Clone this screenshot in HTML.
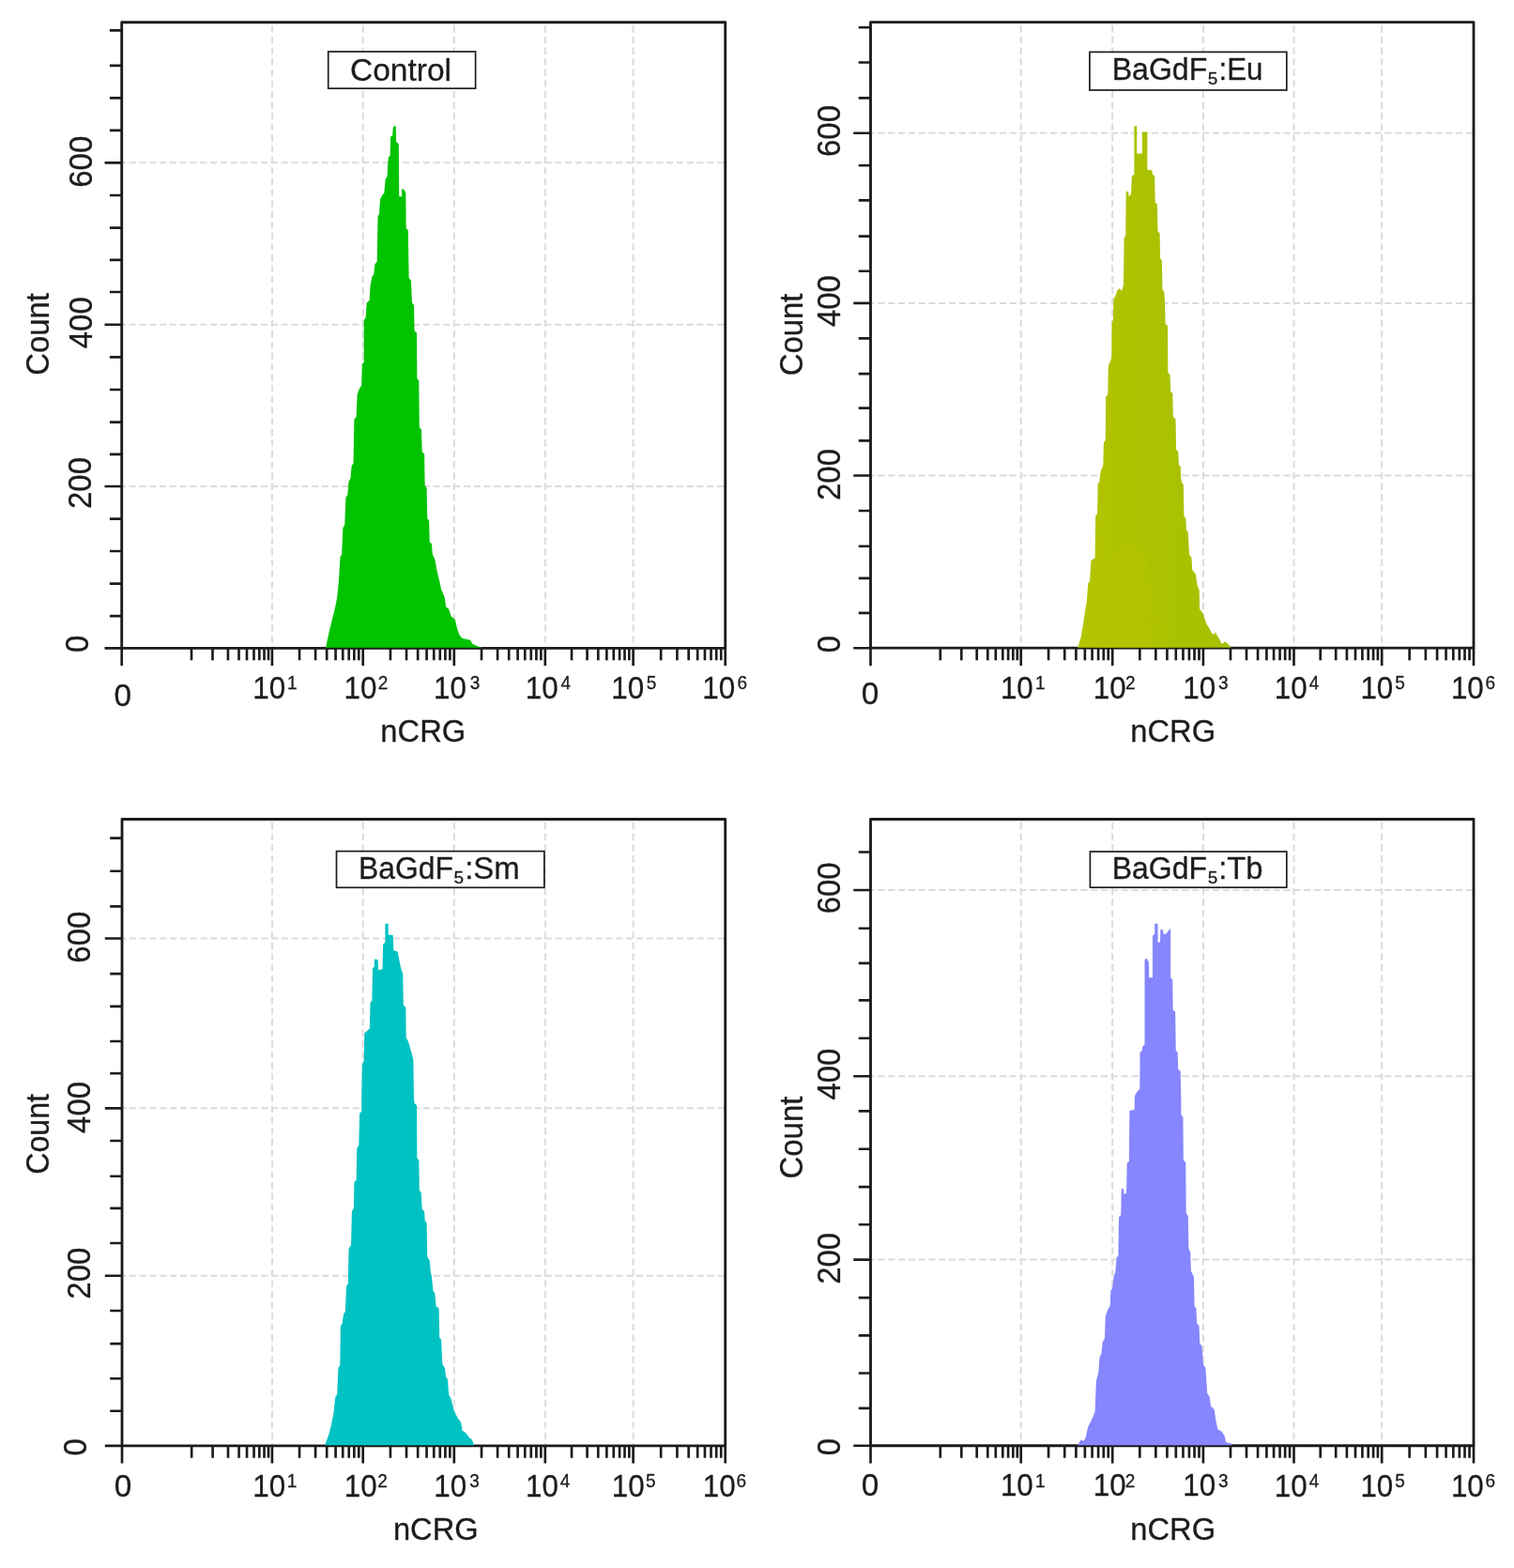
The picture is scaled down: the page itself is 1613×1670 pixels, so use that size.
<!DOCTYPE html>
<html lang="en">
<head>
<meta charset="utf-8">
<title>Flow cytometry histograms</title>
<style>
html,body{margin:0;padding:0;background:#fff;}
body{width:1613px;height:1670px;overflow:hidden;}
svg{display:block;}
svg text{font-family:"Liberation Sans",Arial,Helvetica,sans-serif;fill:#1c1c1c;stroke:#1c1c1c;stroke-width:0.3px;stroke-linejoin:round;}
</style>
</head>
<body>
<svg width="1613" height="1670" viewBox="0 0 1613 1670">
<rect width="1613" height="1670" fill="#fff"/>
<g id="panel1">
<path d="M129.7 173.3H772.7M129.7 345.7H772.7M129.7 518H772.7" fill="none" stroke="#dbdbdb" stroke-width="2" stroke-dasharray="7.3 3.5" stroke-dashoffset="3"/>
<path d="M289.9 23.7V690.3M386.7 23.7V690.3M483.8 23.7V690.3M580.8 23.7V690.3M674.6 23.7V690.3" fill="none" stroke="#dbdbdb" stroke-width="2" stroke-dasharray="7.5 4.1" stroke-dashoffset="8"/>
<rect x="129.7" y="23.7" width="643" height="666.6" fill="none" stroke="#1c1c1c" stroke-width="2.85" stroke-linejoin="round"/>
<path d="M346.86 689.8L347.36 688.47L350.46 673.59L353.56 661.19L356.66 648.79L359.14 636.39L361 617.79L362.49 592.99L364.1 590.51L365.34 562L367.2 559.52L368.44 529.76L370.3 527.28L371.54 512.4L373.4 509.92L373.4 510L374.64 495.99L376.5 493.51L377.37 446.39L379.6 443.91L380.59 420.35L382.7 414.15L385.18 410.43L385.8 388.12L387.66 385.64L387.66 341L389.52 338.52L390.76 322.4L393.24 319.92L393.61 320L394.48 304.75L396.34 294.83L398.2 292.35L399.44 281.19L401.67 278.71L402.54 230.35L404.02 227.87L405.02 212.37L407.5 207.41L409.36 205.55L410.6 190.68L412.46 188.2L413.69 167.74L415.55 165.88L416.17 145.42L418.28 144.18L418.65 136.12L420.14 134.26L421.75 134.26L422 151L424.85 153.48L425.23 209.27L427.95 209.27L428.2 201.22L430.43 201.84L432.29 205.55L432.67 242.75L434.77 245.23L435.64 296.07L437.87 298.55L438.87 320L439.11 322.4L440.97 324.88L441.59 352.16L444.07 354.64L444.32 402.99L446.31 405.47L446.8 455.07L449.03 457.55L449.65 481.11L452.13 483.59L452.5 510L452.75 517.36L454.61 519.84L455.23 552.08L457.09 554.56L457.71 576.88L459.94 579.36L460.81 590.51L463.29 595.47L465.77 609.11L468.25 619.03L470.11 627.71L473.83 636.39L475.07 646.31L478.17 648.79L480.65 656.23L484.99 659.95L486.85 668.63L489.33 676.07L492.43 679.79L501.11 681.65L503.59 685.99L509.79 688.47L513.51 689.71L514.01 689.8Z" fill="#01c300"/>
<path d="M116.9 32.4H129.7M116.9 69.9H129.7M116.9 104.3H129.7M116.9 138.8H129.7M111.5 173.3H129.7M116.9 208H129.7M116.9 242.6H129.7M116.9 276.8H129.7M116.9 311H129.7M111.5 345.7H129.7M116.9 380.3H129.7M116.9 415H129.7M116.9 449.6H129.7M116.9 483.9H129.7M111.5 518H129.7M116.9 552.6H129.7M116.9 587H129.7M116.9 621.6H129.7M116.9 656.1H129.7M111.5 690.3H129.7M129.7 690.3V709.1M289.9 690.3V709.1M386.7 690.3V709.1M483.8 690.3V709.1M580.8 690.3V709.1M674.6 690.3V709.1M772.7 690.3V709.1M204 690.3V703.3M226.49 690.3V703.3M242.9 690.3V703.3M254.5 690.3V703.3M263 690.3V703.3M270.5 690.3V703.3M276.3 690.3V703.3M281.51 690.3V703.3M286.01 690.3V703.3M319.04 690.3V703.3M336.09 690.3V703.3M348.18 690.3V703.3M357.56 690.3V703.3M365.23 690.3V703.3M371.71 690.3V703.3M377.32 690.3V703.3M382.27 690.3V703.3M415.93 690.3V703.3M433.03 690.3V703.3M445.16 690.3V703.3M454.57 690.3V703.3M462.26 690.3V703.3M468.76 690.3V703.3M474.39 690.3V703.3M479.36 690.3V703.3M513 690.3V703.3M530.08 690.3V703.3M542.2 690.3V703.3M551.6 690.3V703.3M559.28 690.3V703.3M565.77 690.3V703.3M571.4 690.3V703.3M576.36 690.3V703.3M609.04 690.3V703.3M625.55 690.3V703.3M637.27 690.3V703.3M646.36 690.3V703.3M653.79 690.3V703.3M660.07 690.3V703.3M665.51 690.3V703.3M670.31 690.3V703.3M704.13 690.3V703.3M721.41 690.3V703.3M733.66 690.3V703.3M743.17 690.3V703.3M750.94 690.3V703.3M757.5 690.3V703.3M763.19 690.3V703.3M768.21 690.3V703.3" fill="none" stroke="#1c1c1c" stroke-width="2.65"/>
<rect x="349.7" y="55" width="156.9" height="39.2" fill="#fff" stroke="#1c1c1c" stroke-width="1.7"/>
<text transform="translate(373 85.5) scale(1.0035 1)" font-size="33.4">Control</text>
<text transform="translate(93.5 695.05) rotate(-90) scale(0.9249 1)" font-size="35.57">0</text>
<text transform="translate(96.9 541.93) rotate(-90) scale(0.9249 1)" font-size="35.57">200</text>
<text transform="translate(97.5 371.18) rotate(-90) scale(0.9249 1)" font-size="35.57">400</text>
<text transform="translate(97.5 199.69) rotate(-90) scale(0.9249 1)" font-size="35.57">600</text>
<text transform="translate(51.7 399.87) rotate(-90) scale(0.9251 1)" font-size="35.57">Count</text>
<text transform="translate(121.56 751.6)" font-size="33.4">0</text>
<g><text transform="translate(269.2 743.9) scale(0.9400 1)" font-size="33.4">10</text><text transform="translate(306.06 734.2) scale(0.9500 1)" font-size="20">1</text></g>
<g><text transform="translate(366.5 743.9) scale(0.9400 1)" font-size="33.4">10</text><text transform="translate(402.64 734.2) scale(0.9500 1)" font-size="20">2</text></g>
<g><text transform="translate(462.1 744) scale(0.9400 1)" font-size="33.4">10</text><text transform="translate(500.78 734.3) scale(0.9500 1)" font-size="20">3</text></g>
<g><text transform="translate(559.8 744) scale(0.9400 1)" font-size="33.4">10</text><text transform="translate(597.56 734.3) scale(0.9500 1)" font-size="20">4</text></g>
<g><text transform="translate(651.2 744) scale(0.9400 1)" font-size="33.4">10</text><text transform="translate(688.64 734.3) scale(0.9500 1)" font-size="20">5</text></g>
<g><text transform="translate(748.3 744) scale(0.9400 1)" font-size="33.4">10</text><text transform="translate(785.44 734.3) scale(0.9500 1)" font-size="20">6</text></g>
<text transform="translate(405.33 790.4) scale(0.9798 1)" font-size="33.4">nCRG</text>
</g>
<g id="panel2">
<path d="M927.5 141.7H1570M927.5 322.9H1570M927.5 506.5H1570" fill="none" stroke="#dbdbdb" stroke-width="2" stroke-dasharray="7.3 3.5" stroke-dashoffset="3"/>
<path d="M1087.7 23.6V690.2M1185.2 23.6V690.2M1281.9 23.6V690.2M1378.5 23.6V690.2M1472.2 23.6V690.2" fill="none" stroke="#dbdbdb" stroke-width="2" stroke-dasharray="7.5 4.1" stroke-dashoffset="8"/>
<rect x="927.5" y="23.6" width="642.5" height="666.6" fill="none" stroke="#1c1c1c" stroke-width="2.85" stroke-linejoin="round"/>
<defs><linearGradient id="g2" gradientUnits="userSpaceOnUse" x1="1150" y1="0" x2="1300" y2="0"><stop offset="0" stop-color="#b4c400"/><stop offset="0.45" stop-color="#abc200"/><stop offset="1" stop-color="#a7c100"/></linearGradient></defs>
<path d="M1148.1 689.7L1148.6 688.47L1151.7 678.55L1153.56 667.39L1155.42 654.99L1157.9 640.11L1159.14 621.51L1161 619.03L1162.49 596.71L1166.58 594.23L1167.2 549.6L1169.06 547.12L1169.68 514.88L1171.54 512.4L1171.54 510L1172.78 500.95L1175.26 495.99L1175.88 471.19L1177.74 468.71L1178.11 422.83L1180.22 420.35L1180.84 389.36L1182.08 386.88L1184.31 380.68L1184.56 343.48L1185.8 341L1186.42 317.44L1188.28 313.72L1186.42 320L1188.28 315.91L1190.14 309.71L1192.62 307.23L1195.1 309.71L1196.96 303.51L1197.58 253.29L1199.19 251.43L1199.68 205.55L1200.06 203.69L1202.29 204.31L1202.54 209.27L1205.02 206.79L1205.88 187.58L1208.36 185.72L1208.36 134.26L1211.22 134.26L1211.22 163.4L1216.79 163.4L1216.79 140.46L1222.37 140.46L1222.37 180.76L1227.33 181.38L1227.95 185.72L1230.19 187.58L1230.68 215.47L1232.91 217.33L1233.53 246.47L1235.64 248.33L1236.01 274.99L1237.87 277.47L1238.49 308.47L1240.35 310.95L1240.97 320L1241.59 344.72L1244.07 347.2L1244.32 396.79L1246.55 399.27L1247.17 416.63L1249.28 419.11L1249.9 443.91L1252.5 446.39L1253 478.63L1255.23 481.11L1255.85 494.75L1257.71 497.23L1258.33 510L1258.95 513.64L1260.81 516.12L1261.43 549.6L1263.29 552.08L1263.91 564.48L1265.77 566.96L1267.01 590.51L1269.49 594.23L1270.11 606.63L1273.83 611.59L1275.69 623.99L1277.55 627.71L1278.17 648.79L1281.89 653.75L1284.99 663.67L1288.71 669.87L1291.19 674.83L1294.29 675.45L1294.91 672.35L1296.15 676.07L1298.63 679.79L1301.73 685.99L1304.83 683.51L1307.31 684.75L1311.03 689.09L1311.53 689.7Z" fill="url(#g2)"/>
<path d="M1168 690L1176 640L1181 600L1185 592L1193 590L1200 566L1204 562L1208 580L1213 586L1218 582L1224 604L1230 640L1236 655L1246 690Z" fill="#bcc500" opacity="0.3"/>
<path d="M914.7 29.2H927.5M914.7 66.5H927.5M914.7 104.4H927.5M909.3 141.7H927.5M914.7 176.2H927.5M914.7 213.3H927.5M914.7 251.6H927.5M914.7 288.7H927.5M909.3 322.9H927.5M914.7 360.4H927.5M914.7 398.1H927.5M914.7 434.6H927.5M914.7 469.3H927.5M909.3 506.5H927.5M914.7 544H927.5M914.7 581.7H927.5M914.7 615.8H927.5M914.7 652.9H927.5M909.3 690.2H927.5M927.5 690.2V709M1087.7 690.2V709M1185.2 690.2V709M1281.9 690.2V709M1378.5 690.2V709M1472.2 690.2V709M1570 690.2V709M1001.8 690.2V703.2M1024.29 690.2V703.2M1040.7 690.2V703.2M1052.3 690.2V703.2M1060.8 690.2V703.2M1068.3 690.2V703.2M1074.1 690.2V703.2M1079.31 690.2V703.2M1083.81 690.2V703.2M1117.05 690.2V703.2M1134.22 690.2V703.2M1146.4 690.2V703.2M1155.85 690.2V703.2M1163.57 690.2V703.2M1170.1 690.2V703.2M1175.75 690.2V703.2M1180.74 690.2V703.2M1214.31 690.2V703.2M1231.34 690.2V703.2M1243.42 690.2V703.2M1252.79 690.2V703.2M1260.45 690.2V703.2M1266.92 690.2V703.2M1272.53 690.2V703.2M1277.48 690.2V703.2M1310.98 690.2V703.2M1327.99 690.2V703.2M1340.06 690.2V703.2M1349.42 690.2V703.2M1357.07 690.2V703.2M1363.54 690.2V703.2M1369.14 690.2V703.2M1374.08 690.2V703.2M1406.71 690.2V703.2M1423.21 690.2V703.2M1434.91 690.2V703.2M1443.99 690.2V703.2M1451.41 690.2V703.2M1457.69 690.2V703.2M1463.12 690.2V703.2M1467.91 690.2V703.2M1501.64 690.2V703.2M1518.86 690.2V703.2M1531.08 690.2V703.2M1540.56 690.2V703.2M1548.3 690.2V703.2M1554.85 690.2V703.2M1560.52 690.2V703.2M1565.52 690.2V703.2" fill="none" stroke="#1c1c1c" stroke-width="2.65"/>
<rect x="1160.9" y="55.4" width="209.9" height="40.6" fill="#fff" stroke="#1c1c1c" stroke-width="1.7"/>
<g><text transform="translate(1184.67 85.2) scale(0.9604 1)" font-size="33.4">BaGdF</text><text transform="translate(1286.74 90.3)" font-size="19">5</text><text transform="translate(1298.45 85.2) scale(0.9361 1)" font-size="33.4">:Eu</text></g>
<text transform="translate(894.5 695.35) rotate(-90) scale(0.9249 1)" font-size="35.57">0</text>
<text transform="translate(894.9 532.93) rotate(-90) scale(0.9249 1)" font-size="35.57">200</text>
<text transform="translate(894.5 347.98) rotate(-90) scale(0.9249 1)" font-size="35.57">400</text>
<text transform="translate(894.5 166.94) rotate(-90) scale(0.9249 1)" font-size="35.57">600</text>
<text transform="translate(855.2 400.37) rotate(-90) scale(0.9262 1)" font-size="35.57">Count</text>
<text transform="translate(917.76 749.6)" font-size="33.4">0</text>
<g><text transform="translate(1065.9 743.6) scale(0.9400 1)" font-size="33.4">10</text><text transform="translate(1102.96 733.9) scale(0.9500 1)" font-size="20">1</text></g>
<g><text transform="translate(1164.8 743.8) scale(0.9400 1)" font-size="33.4">10</text><text transform="translate(1198.94 734.1) scale(0.9500 1)" font-size="20">2</text></g>
<g><text transform="translate(1260.3 743.8) scale(0.9400 1)" font-size="33.4">10</text><text transform="translate(1297.98 734.1) scale(0.9500 1)" font-size="20">3</text></g>
<g><text transform="translate(1357.7 744.1) scale(0.9400 1)" font-size="33.4">10</text><text transform="translate(1394.86 734.4) scale(0.9500 1)" font-size="20">4</text></g>
<g><text transform="translate(1449.4 744.1) scale(0.9400 1)" font-size="33.4">10</text><text transform="translate(1486.24 734.4) scale(0.9500 1)" font-size="20">5</text></g>
<g><text transform="translate(1545.9 744.1) scale(0.9400 1)" font-size="33.4">10</text><text transform="translate(1582.54 734.4) scale(0.9500 1)" font-size="20">6</text></g>
<text transform="translate(1204.33 790.3) scale(0.9786 1)" font-size="33.4">nCRG</text>
</g>
<g id="panel3">
<path d="M130 999.5H772.7M130 1180.3H772.7M130 1358.7H772.7" fill="none" stroke="#dbdbdb" stroke-width="2" stroke-dasharray="7.3 3.5" stroke-dashoffset="3"/>
<path d="M289.9 872.5V1539.8M386.7 872.5V1539.8M483.8 872.5V1539.8M580.8 872.5V1539.8M674.6 872.5V1539.8" fill="none" stroke="#dbdbdb" stroke-width="2" stroke-dasharray="7.5 4.1" stroke-dashoffset="8"/>
<rect x="130" y="872.5" width="642.7" height="667.3" fill="none" stroke="#1c1c1c" stroke-width="2.85" stroke-linejoin="round"/>
<path d="M345.62 1539.3L346.12 1539.09L347.36 1535.99L350.46 1527.31L352.94 1517.39L355.42 1504.99L357.28 1487.63L359.14 1485.15L360.38 1456.63L362.24 1454.15L362.86 1412L364.72 1409.52L365.96 1399.6L367.82 1397.12L369.06 1369.84L370.92 1367.36L370.92 1360L371.54 1329.87L374.02 1326.15L374.89 1290.19L376.87 1286.47L377.37 1259.19L379.6 1256.71L380.22 1223.24L382.32 1219.52L383.07 1186.04L385.18 1183.56L385.18 1170L385.8 1133.67L387.66 1129.95L388.28 1100.19L391.38 1097.71L393.86 1095.23L394.48 1067.95L396.34 1065.47L396.96 1031.38L398.82 1029.52L398.82 1021.46L402.54 1022.08L403.16 1033.24L407.5 1032L408.12 1005.96L410.35 1003.48L410.35 983.64L413.69 983.64L413.69 995.42L418.65 996.04L419.27 1012.16L423.61 1013.4L425.47 1023.32L427.33 1032L429.19 1036.96L429.81 1070.43L432.29 1072.91L432.67 1105.15L434.77 1108.87L436.63 1115.07L438.49 1121.27L440.35 1128.71L440.97 1170L441.59 1174.88L444.07 1177.36L444.32 1233.16L446.31 1235.64L446.8 1267.87L448.78 1270.35L449.65 1287.71L452.13 1290.19L452.75 1300.11L454.61 1302.59L455.23 1338.55L457.71 1342.27L458.95 1355.91L460.19 1360L460.19 1362.4L461.43 1374.8L463.29 1377.28L464.53 1390.92L467.63 1393.4L468.25 1424.4L470.11 1426.88L471.35 1452.91L473.83 1456.63L475.07 1466.55L476.93 1469.03L478.17 1485.15L480.65 1490.11L483.75 1502.51L487.47 1509.95L491.19 1514.91L492.43 1523.59L496.15 1526.07L499.87 1531.03L502.97 1533.51L504.83 1539.09L505.33 1539.3Z" fill="#01c2c2"/>
<path d="M117.2 892.6H130M117.2 927.7H130M117.2 965.4H130M111.8 999.5H130M117.2 1037.1H130M117.2 1071.9H130M117.2 1109H130M117.2 1143.2H130M111.8 1180.3H130M117.2 1215H130M117.2 1252.7H130M117.2 1286.8H130M117.2 1324H130M111.8 1358.7H130M117.2 1396H130M117.2 1431.1H130M117.2 1468.2H130M117.2 1502.7H130M111.8 1539.8H130M130 1539.8V1558.6M289.9 1539.8V1558.6M386.7 1539.8V1558.6M483.8 1539.8V1558.6M580.8 1539.8V1558.6M674.6 1539.8V1558.6M772.7 1539.8V1558.6M204.16 1539.8V1552.8M226.61 1539.8V1552.8M242.99 1539.8V1552.8M254.56 1539.8V1552.8M263.05 1539.8V1552.8M270.54 1539.8V1552.8M276.32 1539.8V1552.8M281.52 1539.8V1552.8M286.01 1539.8V1552.8M319.04 1539.8V1552.8M336.09 1539.8V1552.8M348.18 1539.8V1552.8M357.56 1539.8V1552.8M365.23 1539.8V1552.8M371.71 1539.8V1552.8M377.32 1539.8V1552.8M382.27 1539.8V1552.8M415.93 1539.8V1552.8M433.03 1539.8V1552.8M445.16 1539.8V1552.8M454.57 1539.8V1552.8M462.26 1539.8V1552.8M468.76 1539.8V1552.8M474.39 1539.8V1552.8M479.36 1539.8V1552.8M513 1539.8V1552.8M530.08 1539.8V1552.8M542.2 1539.8V1552.8M551.6 1539.8V1552.8M559.28 1539.8V1552.8M565.77 1539.8V1552.8M571.4 1539.8V1552.8M576.36 1539.8V1552.8M609.04 1539.8V1552.8M625.55 1539.8V1552.8M637.27 1539.8V1552.8M646.36 1539.8V1552.8M653.79 1539.8V1552.8M660.07 1539.8V1552.8M665.51 1539.8V1552.8M670.31 1539.8V1552.8M704.13 1539.8V1552.8M721.41 1539.8V1552.8M733.66 1539.8V1552.8M743.17 1539.8V1552.8M750.94 1539.8V1552.8M757.5 1539.8V1552.8M763.19 1539.8V1552.8M768.21 1539.8V1552.8" fill="none" stroke="#1c1c1c" stroke-width="2.65"/>
<rect x="358.5" y="906.6" width="221.4" height="38.7" fill="#fff" stroke="#1c1c1c" stroke-width="1.7"/>
<g><text transform="translate(381.98 935.9) scale(0.9545 1)" font-size="33.4">BaGdF</text><text transform="translate(483.54 941.1)" font-size="19">5</text><text transform="translate(495.19 935.9) scale(0.9865 1)" font-size="33.4">:Sm</text></g>
<text transform="translate(91.5 1550.45) rotate(-90) scale(0.9249 1)" font-size="35.57">0</text>
<text transform="translate(96.2 1383.63) rotate(-90) scale(0.9249 1)" font-size="35.57">200</text>
<text transform="translate(95.7 1206.88) rotate(-90) scale(0.9249 1)" font-size="35.57">400</text>
<text transform="translate(96.2 1025.64) rotate(-90) scale(0.9249 1)" font-size="35.57">600</text>
<text transform="translate(52.2 1250.73) rotate(-90) scale(0.9025 1)" font-size="35.57">Count</text>
<text transform="translate(121.81 1593.5)" font-size="33.4">0</text>
<g><text transform="translate(269.3 1593.5) scale(0.9400 1)" font-size="33.4">10</text><text transform="translate(305.76 1583.8) scale(0.9500 1)" font-size="20">1</text></g>
<g><text transform="translate(366.8 1593.5) scale(0.9400 1)" font-size="33.4">10</text><text transform="translate(402.34 1583.8) scale(0.9500 1)" font-size="20">2</text></g>
<g><text transform="translate(462.3 1593.5) scale(0.9400 1)" font-size="33.4">10</text><text transform="translate(500.18 1583.8) scale(0.9500 1)" font-size="20">3</text></g>
<g><text transform="translate(560 1593.5) scale(0.9400 1)" font-size="33.4">10</text><text transform="translate(596.76 1583.8) scale(0.9500 1)" font-size="20">4</text></g>
<g><text transform="translate(651.7 1593.5) scale(0.9400 1)" font-size="33.4">10</text><text transform="translate(688.04 1583.8) scale(0.9500 1)" font-size="20">5</text></g>
<g><text transform="translate(748.7 1593.5) scale(0.9400 1)" font-size="33.4">10</text><text transform="translate(784.44 1583.8) scale(0.9500 1)" font-size="20">6</text></g>
<text transform="translate(418.93 1639.6) scale(0.9775 1)" font-size="33.4">nCRG</text>
</g>
<g id="panel4">
<path d="M927.5 948H1570M927.5 1146.2H1570M927.5 1341.6H1570" fill="none" stroke="#dbdbdb" stroke-width="2" stroke-dasharray="7.3 3.5" stroke-dashoffset="3"/>
<path d="M1087.7 872.5V1539.7M1185.2 872.5V1539.7M1281.9 872.5V1539.7M1378.5 872.5V1539.7M1472.2 872.5V1539.7" fill="none" stroke="#dbdbdb" stroke-width="2" stroke-dasharray="7.5 4.1" stroke-dashoffset="8"/>
<rect x="927.5" y="872.5" width="642.5" height="667.2" fill="none" stroke="#1c1c1c" stroke-width="2.85" stroke-linejoin="round"/>
<path d="M1147.48 1539.2L1147.98 1539.09L1151.7 1533.51L1154.8 1534.75L1156.66 1531.03L1159.14 1519.87L1163.48 1511.19L1166.58 1503.75L1167.82 1471.51L1170.3 1461.59L1171.54 1445.47L1173.4 1441.75L1174.64 1429.36L1176.87 1425.64L1177.74 1402.08L1180.22 1394.64L1182.7 1390.92L1183.32 1374.8L1185.18 1372.32L1186.42 1359.92L1186.42 1360L1188.28 1354.67L1189.52 1339.79L1191.38 1337.31L1192 1296.39L1194.23 1293.91L1194.72 1267.87L1195.47 1265.39L1197.2 1266.63L1197.58 1272.21L1200.06 1270.35L1200.68 1238.74L1202.91 1236.88L1203.4 1182.94L1208.74 1181.7L1208.74 1170L1209.36 1165.91L1211.84 1162.19L1214.31 1159.71L1214.56 1120.65L1216.79 1118.79L1217.41 1114.45L1219.52 1112.59L1219.52 1022.08L1221.75 1020.84L1223.86 1024.56L1224.23 1041.3L1227.95 1041.3L1227.95 996.66L1230.19 994.8L1230.19 983.64L1233.53 983.64L1233.53 1003.48L1236.01 1003.48L1236.39 989.84L1239.11 990.46L1239.36 994.8L1242.21 994.8L1246.55 989.22L1247.17 989.84L1247.17 1041.3L1249.28 1043.16L1249.65 1075.39L1252.13 1077.87L1252.75 1118.79L1254.61 1120.65L1255.23 1138.63L1257.71 1141.11L1258.33 1170L1258.33 1187.28L1260.44 1189.76L1260.81 1235.64L1263.29 1238.12L1263.66 1291.43L1265.77 1295.15L1266.39 1329.87L1268.25 1333.59L1268.87 1353.43L1271.97 1360L1272.59 1390.92L1274.45 1393.4L1275.07 1409.52L1277.55 1412L1278.17 1430.6L1280.65 1434.31L1281.89 1452.91L1284.37 1456.63L1286.23 1483.91L1288.71 1487.63L1289.95 1497.55L1293.67 1501.27L1295.53 1513.67L1297.39 1522.35L1301.73 1524.83L1304.83 1529.79L1306.07 1535.99L1312.27 1537.85L1312.77 1539.2Z" fill="#8686fe"/>
<path d="M914.7 907.5H927.5M909.3 948H927.5M914.7 988.7H927.5M914.7 1025.9H927.5M914.7 1065.3H927.5M914.7 1105.7H927.5M909.3 1146.2H927.5M914.7 1183.3H927.5M914.7 1223.7H927.5M914.7 1264.1H927.5M914.7 1304.2H927.5M909.3 1341.6H927.5M914.7 1382.1H927.5M914.7 1422.3H927.5M914.7 1462.5H927.5M914.7 1499.9H927.5M909.3 1539.7H927.5M927.5 1539.7V1558.5M1087.7 1539.7V1558.5M1185.2 1539.7V1558.5M1281.9 1539.7V1558.5M1378.5 1539.7V1558.5M1472.2 1539.7V1558.5M1570 1539.7V1558.5M1001.8 1539.7V1552.7M1024.29 1539.7V1552.7M1040.7 1539.7V1552.7M1052.3 1539.7V1552.7M1060.8 1539.7V1552.7M1068.3 1539.7V1552.7M1074.1 1539.7V1552.7M1079.31 1539.7V1552.7M1083.81 1539.7V1552.7M1117.05 1539.7V1552.7M1134.22 1539.7V1552.7M1146.4 1539.7V1552.7M1155.85 1539.7V1552.7M1163.57 1539.7V1552.7M1170.1 1539.7V1552.7M1175.75 1539.7V1552.7M1180.74 1539.7V1552.7M1214.31 1539.7V1552.7M1231.34 1539.7V1552.7M1243.42 1539.7V1552.7M1252.79 1539.7V1552.7M1260.45 1539.7V1552.7M1266.92 1539.7V1552.7M1272.53 1539.7V1552.7M1277.48 1539.7V1552.7M1310.98 1539.7V1552.7M1327.99 1539.7V1552.7M1340.06 1539.7V1552.7M1349.42 1539.7V1552.7M1357.07 1539.7V1552.7M1363.54 1539.7V1552.7M1369.14 1539.7V1552.7M1374.08 1539.7V1552.7M1406.71 1539.7V1552.7M1423.21 1539.7V1552.7M1434.91 1539.7V1552.7M1443.99 1539.7V1552.7M1451.41 1539.7V1552.7M1457.69 1539.7V1552.7M1463.12 1539.7V1552.7M1467.91 1539.7V1552.7M1501.64 1539.7V1552.7M1518.86 1539.7V1552.7M1531.08 1539.7V1552.7M1540.56 1539.7V1552.7M1548.3 1539.7V1552.7M1554.85 1539.7V1552.7M1560.52 1539.7V1552.7M1565.52 1539.7V1552.7" fill="none" stroke="#1c1c1c" stroke-width="2.65"/>
<rect x="1161.4" y="907" width="209.4" height="38.2" fill="#fff" stroke="#1c1c1c" stroke-width="1.7"/>
<g><text transform="translate(1184.78 935.9) scale(0.9564 1)" font-size="33.4">BaGdF</text><text transform="translate(1286.64 941.1)" font-size="19">5</text><text transform="translate(1298.21 935.9) scale(0.9816 1)" font-size="33.4">:Tb</text></g>
<text transform="translate(894.5 1550.15) rotate(-90) scale(0.9249 1)" font-size="35.57">0</text>
<text transform="translate(894.9 1367.73) rotate(-90) scale(0.9249 1)" font-size="35.57">200</text>
<text transform="translate(894.5 1171.58) rotate(-90) scale(0.9249 1)" font-size="35.57">400</text>
<text transform="translate(894.5 973.24) rotate(-90) scale(0.9249 1)" font-size="35.57">600</text>
<text transform="translate(855.2 1255.58) rotate(-90) scale(0.9284 1)" font-size="35.57">Count</text>
<text transform="translate(917.76 1593.4)" font-size="33.4">0</text>
<g><text transform="translate(1065.9 1593.4) scale(0.9400 1)" font-size="33.4">10</text><text transform="translate(1102.96 1583.7) scale(0.9500 1)" font-size="20">1</text></g>
<g><text transform="translate(1164.7 1593.4) scale(0.9400 1)" font-size="33.4">10</text><text transform="translate(1198.84 1583.7) scale(0.9500 1)" font-size="20">2</text></g>
<g><text transform="translate(1260.2 1593.4) scale(0.9400 1)" font-size="33.4">10</text><text transform="translate(1297.98 1583.7) scale(0.9500 1)" font-size="20">3</text></g>
<g><text transform="translate(1357.7 1593.5) scale(0.9400 1)" font-size="33.4">10</text><text transform="translate(1394.86 1583.8) scale(0.9500 1)" font-size="20">4</text></g>
<g><text transform="translate(1449.4 1593.5) scale(0.9400 1)" font-size="33.4">10</text><text transform="translate(1486.24 1583.8) scale(0.9500 1)" font-size="20">5</text></g>
<g><text transform="translate(1545.9 1593.5) scale(0.9400 1)" font-size="33.4">10</text><text transform="translate(1582.54 1583.8) scale(0.9500 1)" font-size="20">6</text></g>
<text transform="translate(1204.33 1639.6) scale(0.9786 1)" font-size="33.4">nCRG</text>
</g>
</svg>
</body>
</html>
